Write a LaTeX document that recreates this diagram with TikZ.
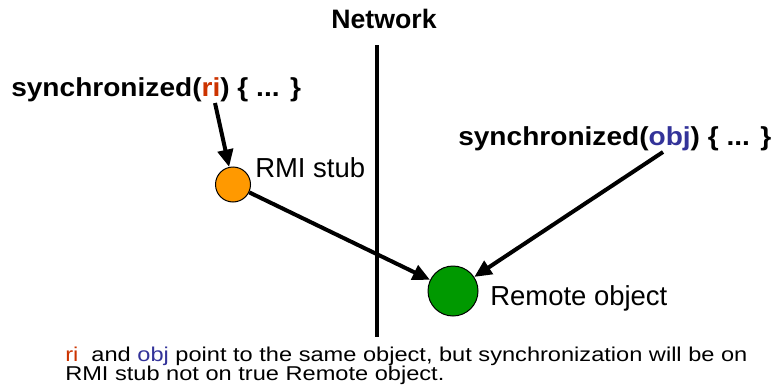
\documentclass[tikz,border=0pt]{standalone}
\usepackage{fontspec}
\setmainfont{Liberation Sans}
\newfontfamily\syncfont{Liberation Sans}[FakeStretch=1.08]
\newfontfamily\notefont{Liberation Sans}[FakeStretch=1.18]
\usetikzlibrary{arrows.meta}
\definecolor{riorange}{RGB}{204,51,0}
\definecolor{objblue}{RGB}{51,51,153}
\definecolor{stuborange}{RGB}{255,153,0}
\definecolor{remotegreen}{RGB}{0,153,0}

\begin{document}
\begin{tikzpicture}[x=0.75pt, y=-0.75pt,
	arr/.style={-{Triangle[length=13pt,width=11.5pt]}, line width=3pt},
	ball/.style={circle, draw, line width=0.75pt, inner sep=0pt},
	lbl/.style={inner sep=0pt, anchor=base west, font=\fontsize{20.6}{24}\selectfont},
	sync/.style={inner sep=0pt, anchor=base west, font=\syncfont\bfseries\fontsize{19.5}{23}\selectfont}]
	\useasboundingbox (0,0) rectangle (774,389);

	% network border
	\node[inner sep=0pt, anchor=base, font=\bfseries\fontsize{20}{24}\selectfont] (net) at (384,28) {Network};
	\coordinate (nettop) at (377,45);
	\coordinate (netbot) at (377,337);
	\draw [line width=3.2pt] (nettop) -- (netbot);

	\node[sync] (syncri) at (11,96) {synchronized(\textcolor{riorange}{ri}) \{ ... \}};
	\node[sync] (syncobj) at (458,145) {synchronized(\textcolor{objblue}{obj}) \{ ... \}};

	\node[ball, fill=stuborange, minimum size=26.25pt] (stub) at (233,184.5) {};
	\node[lbl] (stublbl) at (255,177) {RMI stub};
	\node[ball, fill=remotegreen, minimum size=37.5pt] (remote) at (453,291) {};
	\node[lbl] (remotelbl) at (490,305) {Remote object};

	\coordinate (rifoot) at (215,103);
	\coordinate (objfoot) at (663,152);
	\draw [arr] (rifoot) -- (stub);
	\draw [arr] (stub) -- (remote);
	\draw [arr] (objfoot) -- (remote);

	\node[inner sep=0pt, anchor=north west, align=left, font=\notefont\fontsize{15}{14.3}\selectfont] (note) at (65,346.5) {\textcolor{riorange}{ri}~ and \textcolor{objblue}{obj} point to the same object, but synchronization will be on\\RMI stub not on true Remote object.};
\end{tikzpicture}
\end{document}
